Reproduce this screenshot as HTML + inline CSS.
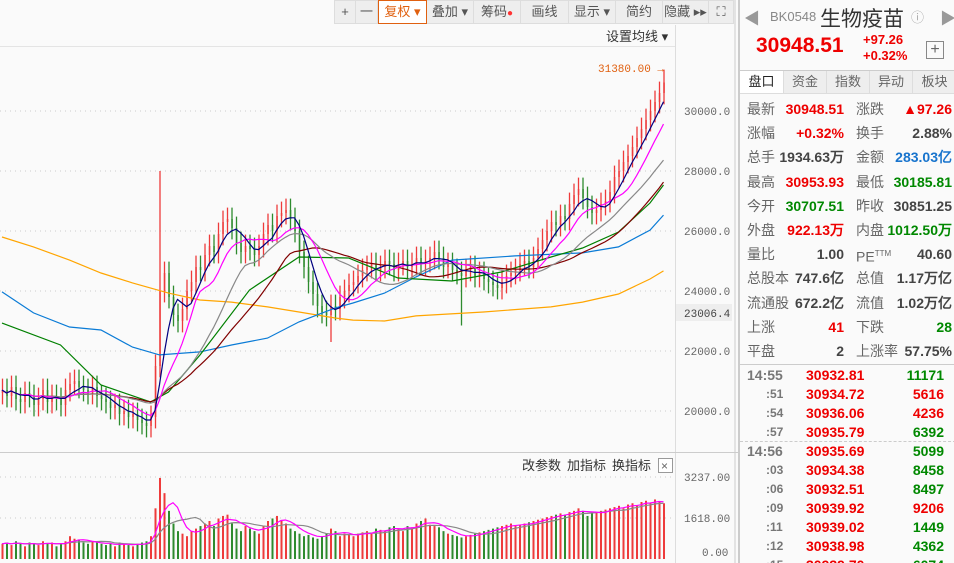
<!DOCTYPE html>
<html><head><meta charset="utf-8">
<style>
*{margin:0;padding:0;box-sizing:border-box}
html,body{width:954px;height:563px;overflow:hidden}
body{background:#fafafa;font-family:"Liberation Sans","Noto Sans CJK SC",sans-serif;position:relative}
#tb{position:absolute;left:334px;top:0;height:24px;display:flex;border-bottom:1px solid #ddd}
#tb div{height:24px;border:1px solid #ddd;border-left:none;background:#eee;font-size:13px;color:#555;text-align:center;line-height:22px}
#rp{position:absolute;left:738px;top:0;width:216px;height:563px;background:#fafafa;border-left:2px solid #ccc;overflow:hidden}
.row{position:absolute;left:0;width:216px;height:24px;font-size:14px;line-height:24px}
.row span{position:absolute}
.l{color:#666}
.num{font-weight:bold;font-family:"Liberation Sans",sans-serif}
.r{color:#e00}.g{color:#080}.k{color:#444}.b{color:#1874cd}
.tr{position:absolute;left:0;width:216px;height:19px;font-size:14px;line-height:19px;font-weight:bold}
.tr span{position:absolute}
</style></head><body>
<svg id="chart" width="738" height="563" style="position:absolute;left:0;top:0"></svg>

<div id="tb">
<div style="width:22px;border-left:1px solid #ddd">+</div>
<div style="width:22px">一</div>
<div style="width:49px;border:1px solid #e06010;color:#e06010;background:#fff">复权 ▾</div>
<div style="width:47px">叠加 ▾</div>
<div style="width:47px">筹码<span style="color:#f33;font-size:10px">●</span></div>
<div style="width:48px">画线</div>
<div style="width:47px">显示 ▾</div>
<div style="width:47px">简约</div>
<div style="width:46px">隐藏 ▸▸</div>
<div style="width:25px">⛶</div>
</div>

<div id="rp">
<div style="position:absolute;left:4px;top:5px;font-size:16px;color:#999">◀</div>
<div style="position:absolute;left:30px;top:9px;font-size:13px;color:#888">BK0548</div>
<div style="position:absolute;left:80px;top:3px;font-size:21px;color:#333">生物疫苗</div>
<div style="position:absolute;left:171px;top:7px;font-size:13px;color:#aaa">ⓘ</div>
<div style="position:absolute;left:200px;top:5px;font-size:16px;color:#999">▶</div>
<div style="position:absolute;left:16px;top:34px;font-size:21px;color:#e00;font-weight:bold">30948.51</div>
<div style="position:absolute;left:123px;top:32px;font-size:13px;color:#e00;font-weight:bold">+97.26</div>
<div style="position:absolute;left:123px;top:48px;font-size:13px;color:#e00;font-weight:bold">+0.32%</div>
<div style="position:absolute;left:186px;top:41px;width:18px;height:18px;border:1px solid #888;text-align:center;line-height:15px;font-size:16px;color:#666">+</div>
<div style="position:absolute;left:0;top:70px;width:216px;height:24px;border-top:1px solid #ccc;border-bottom:1px solid #ddd;display:flex;font-size:13px;color:#666;line-height:22px">
<div style="width:43px;text-align:center;background:#fff;color:#222">盘口</div>
<div style="width:43px;text-align:center;background:#eee;border-left:1px solid #ddd">资金</div>
<div style="width:43px;text-align:center;background:#eee;border-left:1px solid #ddd">指数</div>
<div style="width:43px;text-align:center;background:#eee;border-left:1px solid #ddd">异动</div>
<div style="width:44px;text-align:center;background:#eee;border-left:1px solid #ddd">板块</div>
</div>
<div id="rows"></div>
<div style="position:absolute;left:0;top:364px;width:216px;border-top:1px solid #ccc"></div>
<div style="position:absolute;left:0;top:441px;width:216px;border-top:1px dashed #ccc"></div>
<div id="trades"></div>
</div>

<script>
// ---- data ----
const closes=[20700,20500,20800,20400,20300,20600,20500,20200,20400,20700,20300,20500,20400,20200,
20700,20900,21000,20800,20700,20600,20800,20500,20400,
20300,20100,20200,19900,20000,19800,19900,19700,19600,19500,19800,
21500,24000,24600,
23800,23200,23000,23400,
24000,24300,24800,24700,25200,25500,25300,
25900,26300,26400,26100,
25600,25300,25500,25400,25200,25500,
25900,26200,26000,26500,26600,26700,26400,
26000,25300,24800,24300,23900,23500,23300,23200,
23500,23400,23800,24000,24200,24300,
24500,24700,24800,24900,24700,24800,25000,24900,24700,24900,25000,24800,24900,25100,
24900,25000,25100,25300,25100,
24800,24900,24700,24600,24500,
24700,24800,24500,24600,24400,24300,24200,24100,
24300,24500,24600,24700,24900,25000,24800,
25100,25400,25700,26000,26300,26200,
26500,26400,26900,27200,27400,
27100,26800,26600,
26700,26900,27000,27300,
27800,28000,28300,28500,28800,29100,29400,29700,30000,30300,30600,30950];
const volumes=[600,650,550,700,600,500,650,600,550,700,600,650,500,600,
700,900,800,750,650,600,700,650,600,
550,600,500,650,600,550,500,600,650,700,900,
2000,3200,2600,1900,1400,1100,1000,
900,1100,1200,1300,1400,1500,1300,
1600,1700,1750,1400,1200,1100,1300,1200,1100,1000,
1300,1500,1600,1700,1500,1400,1200,
1100,1000,900,950,850,800,900,1000,
1200,1100,900,1000,950,900,
1000,1050,1100,1000,1200,1150,1100,1250,1300,1200,1100,1300,1250,1400,
1500,1600,1350,1300,1250,
1100,1000,950,900,850,
900,950,1000,1050,1100,1150,1200,1250,
1300,1350,1400,1300,1350,1400,1450,
1500,1550,1600,1650,1700,1750,
1800,1750,1850,1900,2000,
1900,1700,1800,
1850,1900,1950,2000,
2050,2100,2000,2150,2200,2100,2250,2300,2200,2350,2250,2200];
const overrideHigh={35:28000,147:31380};
const overrideLow={73:22300,102:22850};
// long moving averages: [candle index, value]
const ma60Pts=[[0,22933],[13,22200],[22,20867],[33,20300],[37,20633],[44,21867],[55,24033],[66,25133],[77,25100],[88,24433],[100,24333],[111,24633],[122,25133],[129,25433],[137,25967],[144,26933],[147,27533]];
const ma120Pts=[[0,23970],[7,23270],[15,22800],[22,22700],[29,22130],[35,21870],[44,21970],[51,22200],[59,22430],[66,22970],[74,23430],[78,23600],[85,23930],[92,24470],[100,25030],[114,25170],[129,25270],[137,25470],[144,26030],[147,26530]];
const ma250Pts=[[0,25800],[7,25470],[15,25030],[22,24600],[29,24270],[37,23930],[44,23700],[51,23630],[59,23470],[66,23300],[74,23100],[78,23030],[85,23000],[92,23170],[107,23300],[122,23470],[129,23630],[137,23900],[144,24400],[147,24670]];
const yTicks=[30000,28000,26000,24000,22000,20000];
const volTicks=[3237,1618,0];

// ---- axes ----
const X=i=>2+4.5*i;
const Y=v=>111+(30000-v)*0.03;
const VY=v=>559-v*(82/3237);
const svg=document.getElementById('chart');
const NS='http://www.w3.org/2000/svg';
function mk(t,a,p){const e=document.createElementNS(NS,t);for(const k in a)e.setAttribute(k,a[k]);(p||svg).appendChild(e);return e;}

mk('rect',{x:0,y:25,width:738,height:538,fill:'#fafafa'});
mk('line',{x1:0,y1:46.5,x2:675,y2:46.5,stroke:'#e4e4e4'});
mk('line',{x1:675.5,y1:25,x2:675.5,y2:563,stroke:'#ddd'});
mk('line',{x1:0,y1:452.5,x2:738,y2:452.5,stroke:'#ccc'});
mk('line',{x1:735,y1:0,x2:735,y2:563,stroke:'#ccc'});
let t=mk('text',{x:606,y:41,'font-size':13,fill:'#333'});t.textContent='设置均线 ▾';


yTicks.forEach(v=>{
 const g=mk('line',{x1:0,y1:Y(v),x2:675,y2:Y(v),stroke:'#ccc','stroke-dasharray':'1,4'});
 
 const l=mk('text',{x:684,y:Y(v)+4,'font-size':11,fill:'#666','font-family':'Liberation Mono,monospace'});
 l.textContent=v.toFixed(1);
 
 
});
mk('rect',{x:676,y:304,width:56,height:17,fill:'#eee'});
t=mk('text',{x:684,y:317,'font-size':11,fill:'#444','font-family':'Liberation Mono,monospace'});t.textContent='23006.4';


volTicks.forEach(v=>{
 if(v>0)mk('line',{x1:0,y1:VY(v),x2:675,y2:VY(v),stroke:'#ccc','stroke-dasharray':'1,4'});
 const l=mk('text',{x:v===0?702:684,y:VY(v)+(v===0?-3:4),'font-size':11,fill:'#666','font-family':'Liberation Mono,monospace'});
 l.textContent=v.toFixed(2);
 
 
});
[['改参数',522,'edit-params-button'],['加指标',567,'add-indicator-button'],['换指标',612,'switch-indicator-button']].forEach(a=>{
 const e=mk('text',{x:a[1],y:470,'font-size':13,fill:'#333'});e.textContent=a[0];
 
});
mk('rect',{x:658.5,y:458.5,width:14,height:14,fill:'#fff',stroke:'#999'});
t=mk('text',{x:661,y:470,'font-size':12,fill:'#666'});t.textContent='×';


// candles
const opens=closes.map((c,i)=>i===0?20600:closes[i-1]);
closes.forEach((c,i)=>{
 const o=opens[i],up=c>=o,col=up?'#ee3b3b':'#2e8b2e';
 const hi=overrideHigh[i]||Math.max(o,c)+380,lo=overrideLow[i]||Math.min(o,c)-380;
 const w=mk('line',{x1:X(i)+0.5,y1:Y(hi),x2:X(i)+0.5,y2:Y(lo),stroke:col,'stroke-width':1.3});
 
 
 const b=mk('rect',{x:X(i)-0.2,y:Y(Math.max(o,c)),width:1.5,height:Math.max(1,Math.abs(Y(o)-Y(c))),fill:col});
 
 
 const vb=mk('rect',{x:X(i)-0.5,y:VY(volumes[i]),width:2,height:559-VY(volumes[i]),fill:col});
 
 
});

function ma(arr,n){return arr.map((_,i)=>{const s=arr.slice(Math.max(0,i-n+1),i+1);return s.reduce((a,b)=>a+b,0)/s.length;});}
function line(vals,col,name,yf){
 const p=mk('polyline',{points:vals.map((v,i)=>X(i)+','+yf(v)).join(' '),fill:'none',stroke:col,'stroke-width':1.2});
 
}
function ptLine(pts,col,name){
 const p=mk('polyline',{points:pts.map(q=>X(q[0])+','+Y(q[1])).join(' '),fill:'none',stroke:col,'stroke-width':1.2});
 
}
ptLine(ma250Pts,'#ffa500','ma250-line');
ptLine(ma120Pts,'#0a7bd6','ma120-line');
ptLine(ma60Pts,'#008000','ma60-line');
line(ma(closes,30),'#800000','ma30-line',Y);
line(ma(closes,20),'#888','ma20-line',Y);
line(ma(closes,10),'#ff00ff','ma10-line',Y);
line(ma(closes,5),'#000080','ma5-line',Y);
line(ma(volumes,10),'#888','volume-ma10-line',VY);
line(ma(volumes,5),'#ff00ff','volume-ma5-line',VY);

t=mk('text',{x:598,y:72,'font-size':11,fill:'#e06010','font-family':'Liberation Mono,monospace'});t.textContent='31380.00 →';


// right panel rows
const rows=[
['最新','30948.51','r','涨跌','▲97.26','r'],
['涨幅','+0.32%','r','换手','2.88%','k'],
['总手','1934.63万','k','金额','283.03亿','b'],
['最高','30953.93','r','最低','30185.81','g'],
['今开','30707.51','g','昨收','30851.25','k'],
['外盘','922.13万','r','内盘','1012.50万','g'],
['量比','1.00','k','PE<sup style="font-size:8px">TTM</sup>','40.60','k'],
['总股本','747.6亿','k','总值','1.17万亿','k'],
['流通股','672.2亿','k','流值','1.02万亿','k'],
['上涨','41','r','下跌','28','g'],
['平盘','2','k','上涨率','57.75%','k']];
let h='';
rows.forEach((r,i)=>{h+=`<div class="row" style="top:${97+i*24.2}px"><span class="l" style="left:7px">${r[0]}</span><span class="num ${r[2]}" style="right:112px">${r[1]}</span><span class="l" style="left:116px">${r[3]}</span><span class="num ${r[5]}" style="right:4px">${r[4]}</span></div>`;});
document.getElementById('rows').innerHTML=h;
const trades=[['14:55','30932.81','11171','g'],[':51','30934.72','5616','r'],[':54','30936.06','4236','r'],[':57','30935.79','6392','g'],['14:56','30935.69','5099','g'],[':03','30934.38','8458','g'],[':06','30932.51','8497','g'],[':09','30939.92','9206','r'],[':11','30939.02','1449','g'],[':12','30938.98','4362','g'],[':15','30939.70','6074','g']];
h='';
trades.forEach((r,i)=>{const big=r[0].length>3;h+=`<div class="tr" style="top:${366+i*19}px"><span style="left:${big?7:26}px;color:#777;font-size:${big?14:12}px">${r[0]}</span><span class="r" style="left:66px">${r[1]}</span><span class="${r[3]}" style="right:12px">${r[2]}</span></div>`;});
document.getElementById('trades').innerHTML=h;
</script>
</body></html>
